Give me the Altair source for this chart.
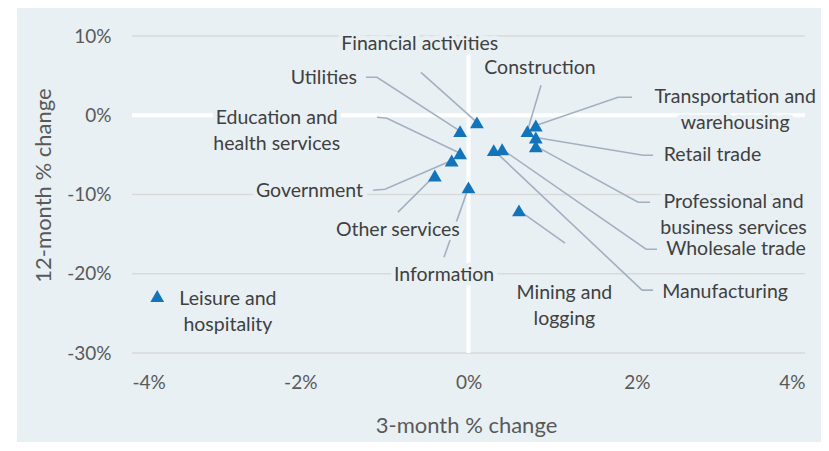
import altair as alt
import pandas as pd

# --- data (percent) ---
industries = [
    "Financial activities", "Utilities", "Education and health services",
    "Construction", "Transportation and warehousing", "Retail trade",
    "Professional and business services", "Wholesale trade", "Manufacturing",
    "Mining and logging", "Information", "Other services", "Government",
    "Leisure and hospitality",
]
three_month = [0.1, -0.1, -0.1, 0.7, 0.8, 0.8, 0.8, 0.4, 0.3, 0.6, 0.0, -0.4, -0.2, -3.7]
twelve_month = [-0.9, -2.0, -4.8, -2.0, -1.3, -2.8, -3.9, -4.3, -4.4, -12.0, -9.1, -7.6, -5.7, -22.8]

# label text (with line breaks) and label anchor (data units)
label_text = [
    "Financial activities", "Utilities", "Education and\nhealth services",
    "Construction", "Transportation and\nwarehousing", "Retail trade",
    "Professional and\nbusiness services", "Wholesale trade", "Manufacturing",
    "Mining and\nlogging", "Information", "Other services", "Government",
    "Leisure and\nhospitality",
]
label_x = [-0.58, -1.72, -2.28, 0.85, 3.17, 2.90, 3.15, 3.18, 3.05, 1.14, -0.29, -0.84, -1.89, -2.86]
label_y = [8.95, 4.67, -0.38, 5.93, 2.27, -5.04, -10.97, -16.90, -22.32, -22.45, -20.18, -14.50, -9.58, -23.14]

# leader lines: start point and optional elbow (data units); end is the data point
leader_start_x = [-0.565, -1.219, -1.088, 0.862, 1.944, 2.194, 2.158, 2.241, 2.194, 1.147, -0.291, -0.838, -1.135, None]
leader_start_y = [5.42, 4.79, -0.25, 3.78, 2.27, -5.04, -10.97, -16.90, -22.07, -16.14, -17.91, -12.23, -9.46, None]
leader_elbow_x = [None, -1.088, -0.969, None, 1.778, 2.075, 2.016, 2.111, 2.063, None, None, None, -0.993, None]
leader_elbow_y = [None, 4.79, -0.38, None, 2.27, -5.04, -10.97, -16.90, -22.07, None, None, None, -9.33, None]

x_ticks = [-4, -2, 0, 2, 4]
y_ticks = [-30, -20, -10, 0, 10]

BG = "#E8F0F4"
FONT = "Lato"
W, H = 673, 317

points = pd.DataFrame({"industry": industries, "x": three_month, "y": twelve_month})
labels = pd.DataFrame({"industry": industries, "text": label_text, "x": label_x, "y": label_y})
grid = pd.DataFrame({"v": y_ticks})

rows = []
for i, name in enumerate(industries):
    if leader_start_x[i] is None:
        continue
    pts = [(leader_start_x[i], leader_start_y[i])]
    if leader_elbow_x[i] is not None:
        pts.append((leader_elbow_x[i], leader_elbow_y[i]))
    pts.append((three_month[i], twelve_month[i]))
    for k, (px, py) in enumerate(pts):
        rows.append({"industry": name, "order": k, "x": px, "y": py})
leaders = pd.DataFrame(rows)

xscale = alt.Scale(domain=[-4, 4], nice=False, zero=False)
yscale = alt.Scale(domain=[-30, 10], nice=False, zero=False)

x_axis = alt.Axis(
    values=x_ticks, labelExpr="datum.value + '%'", grid=False, domain=False, ticks=False,
    labelPadding=20, labelFontSize=19, labelColor="#595959", labelFont=FONT,
    title="3-month % change", titleFontSize=22, titleColor="#595959", titleFont=FONT,
    titleFontWeight="normal", titleX=334, titleY=72, titleBaseline="middle", zindex=1,
)
y_axis = alt.Axis(
    values=y_ticks, labelExpr="datum.value + '%'", grid=False, domain=False, ticks=False,
    labelPadding=21, labelFontSize=19, labelColor="#595959", labelFont=FONT,
    title="12-month % change", titleFontSize=22, titleColor="#595959", titleFont=FONT,
    titleFontWeight="normal", titleX=-89, titleY=149, titleBaseline="middle",
    titleAlign="center", titleAngle=270, zindex=1,
)

# chart panel background (leaves a thin white strip at the far left, as in the original)
panel = alt.Chart(pd.DataFrame({"v": [0]})).mark_rect(color=BG).encode(
    x=alt.value(-115), x2=alt.value(W + 20), y=alt.value(-40), y2=alt.value(H + 100)
)

gridlines = alt.Chart(grid).mark_rule(color="#D9D9D9", strokeWidth=1.5).encode(
    y=alt.Y("v:Q", scale=yscale, axis=y_axis)
)

axes_holder = alt.Chart(points).mark_point(opacity=0).encode(
    x=alt.X("x:Q", scale=xscale, axis=x_axis),
    y=alt.Y("y:Q", scale=yscale, axis=y_axis),
)

hline = alt.Chart(pd.DataFrame({"v": [0]})).mark_rule(color="white", strokeWidth=4).encode(
    y=alt.Y("v:Q", scale=yscale)
)
vline = alt.Chart(pd.DataFrame({"v": [0]})).mark_rule(color="white", strokeWidth=4).encode(
    x=alt.X("v:Q", scale=xscale)
)

leader_lines = alt.Chart(leaders).mark_line(color="#A2B0C0", strokeWidth=1.6).encode(
    x=alt.X("x:Q", scale=xscale),
    y=alt.Y("y:Q", scale=yscale),
    detail="industry:N",
    order="order:Q",
)

halo = alt.Chart(labels).mark_text(
    font=FONT, fontSize=19.5, lineBreak="\n", lineHeight=26, align="center",
    baseline="middle", color=BG, stroke=BG, strokeWidth=9, strokeJoin="round",
).encode(x=alt.X("x:Q", scale=xscale), y=alt.Y("y:Q", scale=yscale), text="text:N")

texts = alt.Chart(labels).mark_text(
    font=FONT, fontSize=19.5, lineBreak="\n", lineHeight=26, align="center",
    baseline="middle", color="#404040",
).encode(x=alt.X("x:Q", scale=xscale), y=alt.Y("y:Q", scale=yscale), text="text:N")

marks = alt.Chart(points).mark_point(
    shape="triangle-up", filled=True, size=190, color="#1474BA", opacity=1
).encode(x=alt.X("x:Q", scale=xscale), y=alt.Y("y:Q", scale=yscale))

chart = alt.layer(panel, gridlines, axes_holder, hline, vline, leader_lines, halo, texts, marks).properties(
    width=W, height=H,
    autosize=alt.AutoSizeParams(type="none"),
    padding={"left": 124, "top": 28, "right": 16, "bottom": 89},
    background="white",
).configure_view(stroke=None)

chart.save("out.html", embed_options={"renderer": "svg", "actions": False})
